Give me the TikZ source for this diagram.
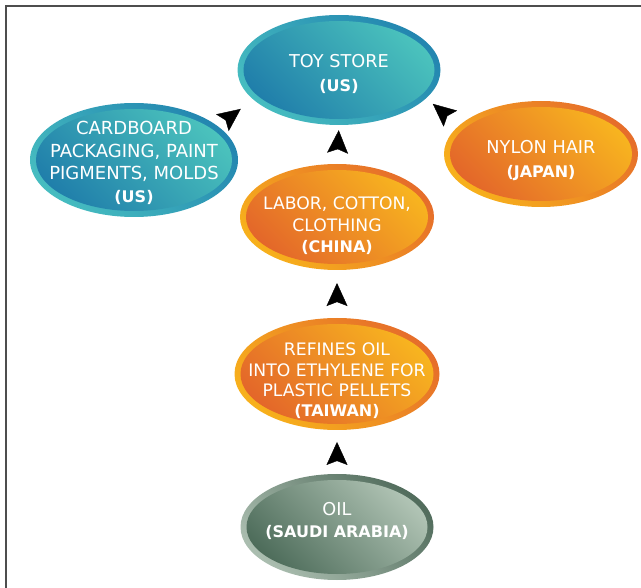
\documentclass[tikz,border=0pt]{standalone}
\usepackage{fontspec}
\setmainfont{DejaVu Sans}
\usetikzlibrary{shapes.geometric, arrows.meta, calc, decorations.markings}

\definecolor{blueDark}{HTML}{1F7DAA}
\definecolor{blueLight}{HTML}{4CC4BD}
\definecolor{ringBlueDark}{HTML}{2386B0}
\definecolor{ringBlueLight}{HTML}{46BCC0}
\definecolor{orangeDark}{HTML}{E3652A}
\definecolor{orangeLight}{HTML}{F8B61F}
\definecolor{ringOrangeDark}{HTML}{E66E2A}
\definecolor{ringOrangeLight}{HTML}{F7B01C}
\definecolor{greenDark}{HTML}{4B6A58}
\definecolor{greenLight}{HTML}{B3C6B7}
\definecolor{ringGreenDark}{HTML}{526D5D}
\definecolor{ringGreenLight}{HTML}{AABDAF}
\definecolor{frameGray}{HTML}{4D4D4D}

\newcommand{\origin}[1]{{\bfseries\fontsize{16}{21}\selectfont(#1)}}

\tikzset{
  hub/.style n args={4}{ellipse, draw=none, inner sep=0pt, top color=#3, bottom color=#4, shading angle=-45,
    path picture={\shade[top color=#1, bottom color=#2, shading angle=-45]
      let \p1 = (path picture bounding box.north east), \p2 = (path picture bounding box.center)
      in (\p2) ellipse [x radius=\x1-\x2-6pt, y radius=\y1-\y2-6pt];}},
  blue hub/.style={hub={blueLight}{blueDark}{ringBlueDark}{ringBlueLight}},
  orange hub/.style={hub={orangeLight}{orangeDark}{ringOrangeDark}{ringOrangeLight}},
  green hub/.style={hub={greenLight}{greenDark}{ringGreenDark}{ringGreenLight}},
  caption/.style 2 args={text=white, align=center, font=\fontsize{#1}{#2}\selectfont},
  feeds/.style={decoration={markings, mark=at position #1 with {\arrow{Stealth[length=23pt, width=21pt, inset=4pt]}}}, postaction={decorate}}
}

\begin{document}
\begin{tikzpicture}[x=1pt, y=1pt]
  \useasboundingbox (0, 0) rectangle (641, -588);
  % Frame
  \draw [frameGray, line width=1.6pt] (6, -588) -- (6, -6) -- (641, -6);
  % Top row
  \node [blue hub, minimum width=203pt, minimum height=110pt, label={[caption={17.7}{24}, yshift=-4pt]center:TOY STORE\\\origin{US}}] (store) at (339, -70) {};
  \node [blue hub, minimum width=208pt, minimum height=114pt, label={[caption={18}{22.7}, yshift=-3pt]center:CARDBOARD\\PACKAGING, PAINT\\PIGMENTS, MOLDS\\\origin{US}}] (box) at (134, -160) {};
  \node [orange hub, minimum width=194pt, minimum height=106pt, label={[caption={17.7}{24}, yshift=-7pt]center:NYLON HAIR\\\origin{JAPAN}}] (hair) at (541, -154) {};
  % Chain below the store
  \node [orange hub, minimum width=194pt, minimum height=106pt, label={[caption={17.2}{21.5}, yshift=-9pt]center:LABOR, COTTON,\\CLOTHING\\\origin{CHINA}}] (china) at (337, -217) {};
  \node [orange hub, minimum width=205pt, minimum height=112pt, label={[caption={17.2}{20.3}, yshift=-7pt]center:REFINES OIL\\INTO ETHYLENE FOR\\PLASTIC PELLETS\\\origin{TAIWAN}}] (taiwan) at (337, -374) {};
  \node [green hub, minimum width=193pt, minimum height=106pt, label={[caption={17.7}{22}, yshift=6pt]center:OIL\\\origin{SAUDI ARABIA}}] (oil) at (337, -527) {};
  % Arrow heads
  \path [feeds=0.73] (oil.north) -- (taiwan.south);
  \path [feeds=0.73] (taiwan.north) -- (china.south);
  \path [feeds=0.87] (china.north) -- (store.south);
  \path [feeds=0.65] (box.22) -- (store.199);
  \path [feeds=0.80] (hair.161) -- (store.342);
\end{tikzpicture}
\end{document}
